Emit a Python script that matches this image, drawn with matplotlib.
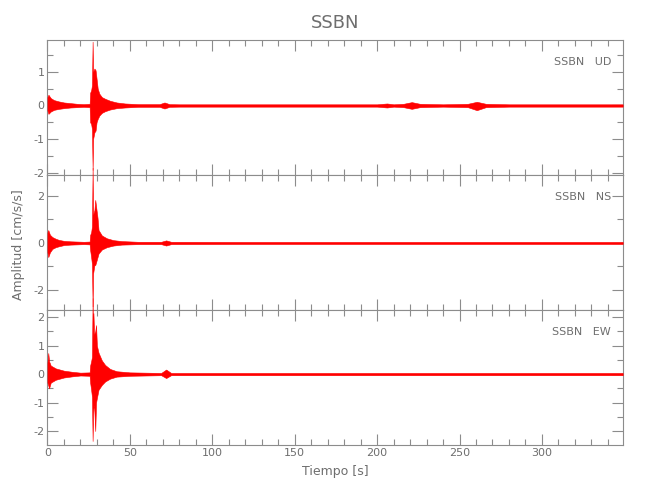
import matplotlib
matplotlib.use("Agg")
import matplotlib.pyplot as plt
from matplotlib.ticker import MultipleLocator

plt.rcParams['font.family'] = ['DejaVu Sans']
plt.rcParams['axes.unicode_minus'] = False

station = "SSBN"
components = ["UD", "NS", "EW"]

# envelope of each trace: time [s], upper and lower amplitude [cm/s/s]
t_ud = [0, 0.6, 2, 4, 7, 10, 14, 18, 22, 25.6, 25.9, 26.5, 27.0, 27.4, 27.7, 28.5, 29.2, 29.8, 30.5, 31.5,
        33, 35, 38, 42, 47, 55, 68, 71, 74, 80, 120, 160, 200, 206, 210, 216, 221, 226, 240, 255,
        260.5, 266, 280, 320, 349]
up_ud = [0.25, 0.32, 0.22, 0.16, 0.12, 0.09, 0.07, 0.05, 0.04, 0.05, 0.38, 0.45, 0.60, 1.90, 1.00, 1.10, 1.05, 0.80, 0.50, 0.35,
         0.25, 0.20, 0.14, 0.09, 0.06, 0.04, 0.04, 0.09, 0.04, 0.035, 0.035, 0.035, 0.035, 0.06, 0.035, 0.05, 0.10, 0.05, 0.035, 0.05,
         0.11, 0.05, 0.035, 0.035, 0.035]
lo_ud = [-0.15, -0.25, -0.18, -0.13, -0.10, -0.08, -0.06, -0.05, -0.04, -0.05, -0.50, -0.55, -0.70, -1.92, -1.00, -0.80, -0.75, -0.50, -0.40, -0.30,
         -0.22, -0.17, -0.12, -0.08, -0.06, -0.04, -0.04, -0.09, -0.04, -0.035, -0.035, -0.035, -0.035, -0.06, -0.035, -0.05, -0.10, -0.05, -0.035, -0.05,
         -0.14, -0.05, -0.035, -0.035, -0.035]

t_ns = [0, 0.5, 1.5, 3, 5, 7, 10, 14, 18, 22, 25.6, 25.9, 26.5, 27.0, 27.4, 27.7, 28.5, 29.0, 29.6, 30.4,
        31, 33, 36, 40, 45, 55, 69, 72, 75, 120, 200, 260, 300, 349]
up_ns = [0.45, 0.55, 0.35, 0.25, 0.18, 0.13, 0.09, 0.07, 0.06, 0.05, 0.06, 0.34, 0.45, 0.70, 3.20, 1.20, 1.40, 1.83, 1.50, 1.06,
         0.55, 0.32, 0.20, 0.12, 0.08, 0.05, 0.05, 0.11, 0.05, 0.045, 0.045, 0.045, 0.045, 0.045]
lo_ns = [-0.40, -0.60, -0.40, -0.25, -0.18, -0.14, -0.09, -0.07, -0.06, -0.05, -0.06, -0.30, -0.60, -0.90, -2.70, -1.30, -0.94, -0.94, -0.80, -0.60,
         -0.45, -0.28, -0.18, -0.11, -0.07, -0.05, -0.05, -0.11, -0.05, -0.045, -0.045, -0.045, -0.045, -0.045]

t_ew = [0, 0.5, 1.0, 2, 5, 10, 15, 20, 25.6, 25.9, 26.5, 27.0, 27.4, 27.7, 27.9, 28.3, 29.0, 29.5, 30.0, 31,
        33, 35, 38, 42, 50, 69, 72, 75, 120, 200, 260, 300, 349]
up_ew = [0.40, 0.74, 0.45, 0.30, 0.20, 0.12, 0.08, 0.05, 0.06, 0.30, 0.45, 0.60, 2.67, 1.20, 2.14, 1.40, 1.50, 1.72, 1.00, 0.75,
         0.48, 0.32, 0.18, 0.10, 0.06, 0.04, 0.16, 0.04, 0.04, 0.04, 0.04, 0.04, 0.04]
lo_ew = [-0.30, -0.40, -0.50, -0.30, -0.20, -0.12, -0.08, -0.05, -0.06, -0.30, -0.55, -0.80, -2.35, -1.40, -1.20, -1.10, -2.00, -1.00, -0.84, -0.55,
         -0.38, -0.26, -0.16, -0.09, -0.06, -0.04, -0.14, -0.04, -0.04, -0.04, -0.04, -0.04, -0.04]

traces = [(t_ud, up_ud, lo_ud), (t_ns, up_ns, lo_ns), (t_ew, up_ew, lo_ew)]
ylims = [(-2.07, 1.95), (-2.85, 2.89), (-2.49, 2.25)]
ysteps = [(1, 0.5), (2, 1), (1, 0.5)]

grey = '#8c8c8c'
txt = '#6e6e6e'
red = '#ff0000'

fig = plt.figure(figsize=(6.5, 5), dpi=100)
left, right, top, bottom = 0.073, 0.958, 0.92, 0.11
h = (top - bottom) / 3

for i, (comp, (t, up, lo)) in enumerate(zip(components, traces)):
    ax = fig.add_axes([left, top - (i + 1) * h, right - left, h])
    ax.fill_between(t, lo, up, color=red, lw=0.4, clip_on=False, zorder=3)
    ax.set_xlim(0, 349)
    ax.set_ylim(*ylims[i])
    ax.xaxis.set_major_locator(MultipleLocator(50))
    ax.xaxis.set_minor_locator(MultipleLocator(10))
    ax.yaxis.set_major_locator(MultipleLocator(ysteps[i][0]))
    ax.yaxis.set_minor_locator(MultipleLocator(ysteps[i][1]))
    ax.tick_params(which='both', direction='in', top=True, right=True,
                   color=grey, labelcolor=txt, labelsize=8, width=0.8, pad=2)
    ax.tick_params(which='major', length=8)
    ax.tick_params(which='minor', length=4)
    for s in ax.spines.values():
        s.set_color(grey)
        s.set_linewidth(0.8)
    if i < 2:
        ax.tick_params(labelbottom=False)
    ax.text(0.98, 0.84, station + "   " + comp, transform=ax.transAxes,
            ha='right', va='center', fontsize=8, color=txt)

fig.text((left + right) / 2, 0.955, station, ha='center', va='center', fontsize=13, color=txt)
fig.text((left + right) / 2, 0.058, "Tiempo [s]", ha='center', va='center', fontsize=9, color=txt)
fig.text(0.028, 0.51, "Amplitud [cm/s/s]", ha='center', va='center', rotation=90, fontsize=9, color=txt)

fig.savefig("out.png", dpi=100)
